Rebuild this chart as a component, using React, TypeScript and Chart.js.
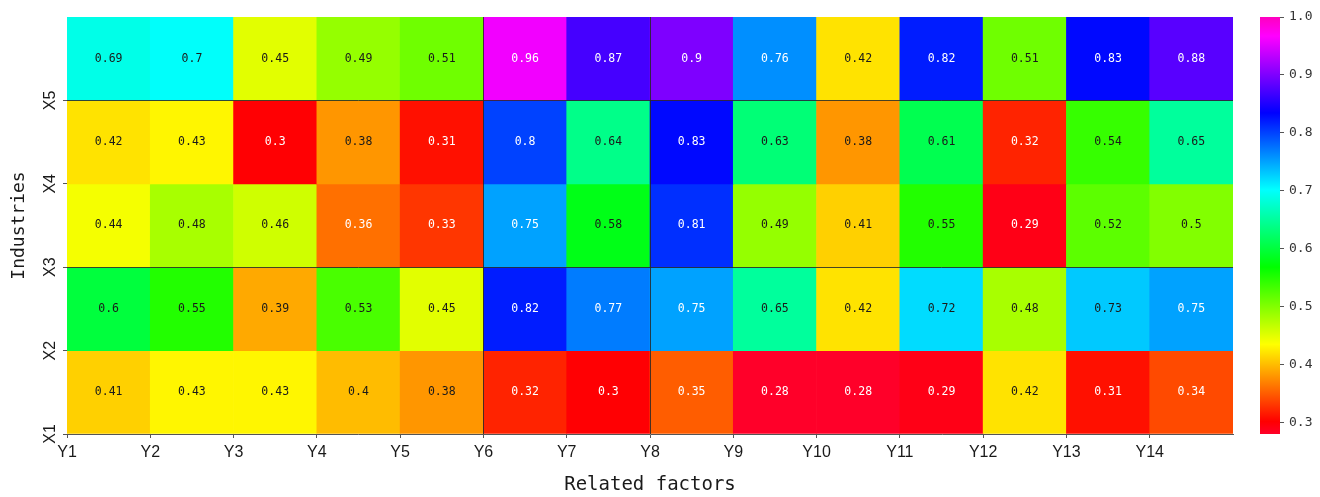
import React, { useEffect, useRef } from 'react';
import { Chart, registerables } from 'chart.js';

Chart.register(...registerables);

// ---------- data ----------
const xLabels = ['Y1', 'Y2', 'Y3', 'Y4', 'Y5', 'Y6', 'Y7', 'Y8', 'Y9', 'Y10', 'Y11', 'Y12', 'Y13', 'Y14'];
const yLabels = ['X1', 'X2', 'X3', 'X4', 'X5'];

const rowX1 = [0.41, 0.43, 0.43, 0.4, 0.38, 0.32, 0.3, 0.35, 0.28, 0.28, 0.29, 0.42, 0.31, 0.34];
const rowX2 = [0.6, 0.55, 0.39, 0.53, 0.45, 0.82, 0.77, 0.75, 0.65, 0.42, 0.72, 0.48, 0.73, 0.75];
const rowX3 = [0.44, 0.48, 0.46, 0.36, 0.33, 0.75, 0.58, 0.81, 0.49, 0.41, 0.55, 0.29, 0.52, 0.5];
const rowX4 = [0.42, 0.43, 0.3, 0.38, 0.31, 0.8, 0.64, 0.83, 0.63, 0.38, 0.61, 0.32, 0.54, 0.65];
const rowX5 = [0.69, 0.7, 0.45, 0.49, 0.51, 0.96, 0.87, 0.9, 0.76, 0.42, 0.82, 0.51, 0.83, 0.88];
const rows = [rowX1, rowX2, rowX3, rowX4, rowX5];

const colorMin = 0.28;
const colorMax = 1.0;
const colorbarTicks = [0.3, 0.4, 0.5, 0.6, 0.7, 0.8, 0.9, 1.0];

// dark separator lines (tick index positions)
const separatorCols = [5, 7];
const separatorRows = [2, 4];

// gist_rainbow colormap nodes
const cmapNodes: [number, number[]][] = [
  [0.0, [255, 0, 41]],
  [0.03, [255, 0, 0]],
  [0.215, [255, 255, 0]],
  [0.4, [0, 255, 0]],
  [0.586, [0, 255, 255]],
  [0.77, [0, 0, 255]],
  [0.954, [255, 0, 255]],
  [1.0, [255, 0, 191]],
];

function cmap(v: number): string {
  let t = (v - colorMin) / (colorMax - colorMin);
  t = Math.max(0, Math.min(1, t));
  for (let i = 0; i < cmapNodes.length - 1; i++) {
    const [t0, c0] = cmapNodes[i];
    const [t1, c1] = cmapNodes[i + 1];
    if (t >= t0 && t <= t1) {
      const f = (t - t0) / (t1 - t0);
      const c = c0.map((a, k) => Math.round(a + (c1[k] - a) * f));
      return `rgb(${c[0]},${c[1]},${c[2]})`;
    }
  }
  const c = cmapNodes[cmapNodes.length - 1][1];
  return `rgb(${c[0]},${c[1]},${c[2]})`;
}

const cellData: { x: number; y: number[] }[] = [];
const cellValues: number[] = [];
rows.forEach((row, r) => {
  row.forEach((v, c) => {
    cellData.push({ x: c + 0.5, y: [r, r + 1] });
    cellValues.push(v);
  });
});

const W = 1320;
const H = 497;
const AREA_LEFT = 67;
const AREA_RIGHT = 1233;
const AREA_TOP = 17;
const AREA_BOTTOM = 434;

const overlayPlugin = {
  id: 'heatOverlay',
  afterDatasetsDraw(chart: any) {
    const ctx = chart.ctx;
    const xs = chart.scales.x;
    const ys = chart.scales.y;
    const area = chart.chartArea;
    ctx.save();
    ctx.strokeStyle = 'rgba(40,40,40,0.85)';
    ctx.lineWidth = 1;
    separatorCols.forEach((c) => {
      const px = Math.round(xs.getPixelForValue(c)) + 0.5;
      ctx.beginPath();
      ctx.moveTo(px, area.top);
      ctx.lineTo(px, area.bottom);
      ctx.stroke();
    });
    separatorRows.forEach((r) => {
      const py = Math.round(ys.getPixelForValue(r)) + 0.5;
      ctx.beginPath();
      ctx.moveTo(area.left, py);
      ctx.lineTo(area.right, py);
      ctx.stroke();
    });
    const meta = chart.getDatasetMeta(0);
    ctx.font = '11.5px "DejaVu Sans Mono"';
    ctx.textAlign = 'center';
    ctx.textBaseline = 'middle';
    meta.data.forEach((el: any, i: number) => {
      const p = el.getProps(['x', 'y', 'base'], true);
      const v = cellValues[i];
      ctx.fillStyle = v <= 0.36 || v >= 0.75 ? '#ffffff' : '#1a1a1a';
      ctx.fillText(String(v), p.x, (p.y + p.base) / 2);
    });
    ctx.restore();
  },
};

export default function App() {
  const mainRef = useRef<HTMLCanvasElement>(null);
  const cbRef = useRef<HTMLCanvasElement>(null);

  useEffect(() => {
    document.body.style.margin = '0';
    const tickFont = { family: '"Liberation Sans", Arial, sans-serif', size: 16 };
    const titleFontX = { family: '"DejaVu Sans Mono", monospace', size: 19 };
    const titleFontY = { family: '"DejaVu Sans Mono", monospace', size: 18 };

    const main = new Chart(mainRef.current!, {
      type: 'bar',
      data: {
        datasets: [
          {
            data: cellData as any,
            backgroundColor: cellValues.map(cmap),
            borderWidth: 0,
            barPercentage: 1,
            categoryPercentage: 1,
          },
        ],
      },
      options: {
        responsive: false,
        animation: false,
        events: [],
        layout: { padding: { top: AREA_TOP, right: W - AREA_RIGHT, bottom: 0, left: 0 } },
        plugins: { legend: { display: false }, tooltip: { enabled: false } },
        scales: {
          x: {
            type: 'linear',
            min: 0,
            max: xLabels.length,
            offset: false,
            afterBuildTicks: (scale: any) => {
              scale.ticks = xLabels.map((_, i) => ({ value: i }));
            },
            afterFit: (scale: any) => {
              scale.height = H - AREA_BOTTOM;
            },
            ticks: {
              autoSkip: false,
              maxRotation: 0,
              minRotation: 0,
              padding: 5,
              color: '#1a1a1a',
              font: tickFont,
              callback: (v: any) => xLabels[v] ?? '',
            },
            grid: { drawOnChartArea: false, offset: false, tickLength: 4, color: '#555' },
            border: { display: true, color: '#555', width: 1 },
            title: {
              display: true,
              text: 'Related factors',
              color: '#1a1a1a',
              font: titleFontX,
              padding: { top: 0, bottom: 1 },
            },
          },
          y: {
            type: 'linear',
            min: 0,
            max: yLabels.length,
            afterBuildTicks: (scale: any) => {
              scale.ticks = yLabels.map((_, i) => ({ value: i }));
            },
            afterFit: (scale: any) => {
              scale.width = AREA_LEFT;
            },
            ticks: {
              autoSkip: false,
              minRotation: 90,
              maxRotation: 90,
              crossAlign: 'center',
              padding: 3,
              color: '#1a1a1a',
              font: tickFont,
              callback: (v: any) => yLabels[v] ?? '',
            },
            grid: { drawOnChartArea: false, tickLength: 4, color: '#555' },
            border: { display: false },
            title: {
              display: true,
              text: 'Industries',
              color: '#1a1a1a',
              font: titleFontY,
              padding: { top: 9, bottom: 0 },
            },
          },
        },
      } as any,
      plugins: [overlayPlugin],
    });

    const cb = new Chart(cbRef.current!, {
      type: 'bar',
      data: {
        labels: [''],
        datasets: [
          {
            data: [[colorMin, colorMax]] as any,
            borderWidth: 0,
            barPercentage: 1,
            categoryPercentage: 1,
            backgroundColor: (ctx: any) => {
              const area = ctx.chart.chartArea;
              if (!area) return 'rgba(0,0,0,0)';
              const g = ctx.chart.ctx.createLinearGradient(0, area.bottom, 0, area.top);
              cmapNodes.forEach(([t, c]) => g.addColorStop(t, `rgb(${c[0]},${c[1]},${c[2]})`));
              return g;
            },
          },
        ],
      },
      options: {
        responsive: false,
        animation: false,
        events: [],
        layout: { padding: { top: AREA_TOP, right: 0, bottom: H - AREA_BOTTOM, left: 20 } },
        plugins: { legend: { display: false }, tooltip: { enabled: false } },
        scales: {
          x: { type: 'category', display: false },
          y: {
            type: 'linear',
            position: 'right',
            min: colorMin,
            max: colorMax,
            afterBuildTicks: (scale: any) => {
              scale.ticks = colorbarTicks.map((v) => ({ value: v }));
            },
            afterFit: (scale: any) => {
              scale.width = 40;
            },
            ticks: {
              padding: 5,
              color: '#333',
              font: { family: '"DejaVu Sans Mono", monospace', size: 13 },
              callback: (v: any) => Number(v).toFixed(1),
            },
            grid: { drawOnChartArea: false, tickLength: 4, color: '#555' },
            border: { display: false },
          },
        },
      } as any,
    });

    return () => {
      main.destroy();
      cb.destroy();
    };
  }, []);

  return (
    <div style={{ position: 'relative', width: W, height: H, background: '#fff', overflow: 'hidden' }}>
      <canvas ref={mainRef} width={W} height={H} style={{ position: 'absolute', left: 0, top: 0, display: 'block' }} />
      <canvas ref={cbRef} width={80} height={H} style={{ position: 'absolute', left: 1240, top: 0, display: 'block' }} />
    </div>
  );
}
